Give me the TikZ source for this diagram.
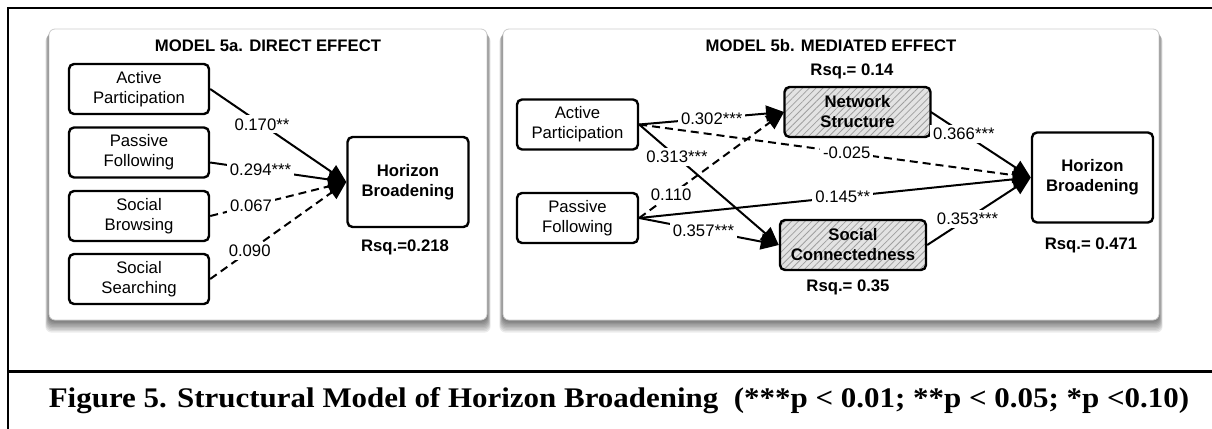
\documentclass[tikz,border=0pt]{standalone}
\usepackage{fontspec}
\setmainfont{Liberation Sans}
\newfontfamily\capfont[FakeStretch=1.09]{Liberation Serif}
\usepackage{tikz}
\usetikzlibrary{arrows.meta,patterns.meta}
\newcommand\sz{\fontsize{8.35}{10}\selectfont}
\tikzstyle{Var}=[rectangle, rounded corners=2.5pt, draw=black, line width=1.2pt, fill=white, minimum width=70pt, minimum height=25pt, inner sep=0pt, align=center]
\tikzstyle{Med}=[Var, font=\sz\bfseries, minimum width=73pt, preaction={fill=gray!22}, pattern={Lines[angle=45,distance=2.4pt,line width=0.4pt]}, pattern color=gray!75]
\tikzstyle{Out}=[Var, font=\sz\bfseries, minimum width=60.5pt, minimum height=45pt]
\tikzstyle{Coef}=[fill=white, inner sep=1.5pt, font=\sz]
\tikzstyle{Path}=[line width=1pt, -{Triangle[length=9pt,width=8pt]}]
\tikzstyle{Weak}=[Path, dash pattern=on 4pt off 2.5pt]

\begin{document}
\begin{tikzpicture}[x=0.5pt, y=-0.5pt, font=\sz]
    \useasboundingbox (0,0) rectangle (1212,429);
    % outer frame
    \draw[line width=1.3pt] (1212,8) -- (8,8) -- (8,429);
    \draw[line width=1.3pt] (8,371.5) -- (1212,371.5);

    % the two panels with soft shadow
    \foreach \xa/\xb in {49/487, 503/1159} {
      \foreach \s in {1,...,9}
        \fill[black, opacity=0.075, rounded corners=3pt] (\xa-\s*0.4, 29+\s*0.7) rectangle (\xb+\s*0.4, 320+\s*1.4);
      \draw[gray!40, fill=white, rounded corners=3pt] (\xa,29) rectangle (\xb,320);
    }

    % model 5a
    \path
    (268,46) node[font=\sz\bfseries] (titleA) {MODEL 5a. DIRECT EFFECT}
    (139,89) node[Var] (actA) {Active\\Participation}
    (139,152.5) node[Var] (pasA) {Passive\\Following}
    (139,216) node[Var] (browA) {Social\\Browsing}
    (139,279) node[Var] (srchA) {Social\\Searching}
    (408,182) node[Out] (horA) {Horizon\\Broadening}
    (405,247) node[font=\sz\bfseries] (rsqA) {Rsq.=0.218};

    \draw[Path] (actA.east) -- node[Coef, pos=0.38] {0.170**} (horA.west);
    \draw[Path] ([yshift=-5pt]pasA.east) -- node[Coef, pos=0.37] {0.294***} (horA.west);
    \draw[Weak] (browA.east) -- node[Coef, pos=0.3] {0.067} (horA.west);
    \draw[Weak] (srchA.east) -- node[Coef, pos=0.29] {0.090} (horA.west);

    % model 5b
    \path
    (831,46) node[font=\sz\bfseries] (titleB) {MODEL 5b. MEDIATED EFFECT}
    (577.5,124.5) node[Var, minimum width=60.5pt] (actB) {Active\\Participation}
    (577.5,218) node[Var, minimum width=60.5pt] (pasB) {Passive\\Following}
    (857.5,112) node[Med] (netB) {Network\\Structure}
    (853,245) node[Med] (socB) {Social\\Connectedness}
    (1092.5,177.5) node[Out] (horB) {Horizon\\Broadening};

    \path
    (852,71) node[font=\sz\bfseries] (rsqNet) {Rsq.= 0.14}
    (848,287) node[font=\sz\bfseries] (rsqSoc) {Rsq.= 0.35}
    (1091,245) node[font=\sz\bfseries] (rsqB) {Rsq.= 0.471};

    \draw[Weak] (actB.east) -- node[Coef, pos=0.53] {-0.025} (horB.west);
    \draw[Weak] (pasB.east) -- node[Coef, pos=0.22] {0.110} (netB.west);
    \draw[Path] (actB.east) -- node[Coef, pos=0.5] {0.302***} (netB.west);
    \draw[Path] (actB.east) -- node[Coef, pos=0.27] {0.313***} (socB.west);
    \draw[Path] (pasB.east) -- node[Coef, pos=0.46] {0.357***} (socB.west);
    \draw[Path] (pasB.east) -- node[Coef, pos=0.52] {0.145**} (horB.west);
    \draw[Path] (netB.east) -- node[Coef, pos=0.33] {0.366***} (horB.west);
    \draw[Path] (socB.east) -- node[Coef, pos=0.39] {0.353***} (horB.west);

    % caption
    \path (619,401) node[font=\capfont\bfseries\fontsize{14.2}{17}\selectfont] (caption)
      {Figure 5. Structural Model of Horizon Broadening\ \ (***p < 0.01; **p < 0.05; *p <0.10)};
\end{tikzpicture}
\end{document}
